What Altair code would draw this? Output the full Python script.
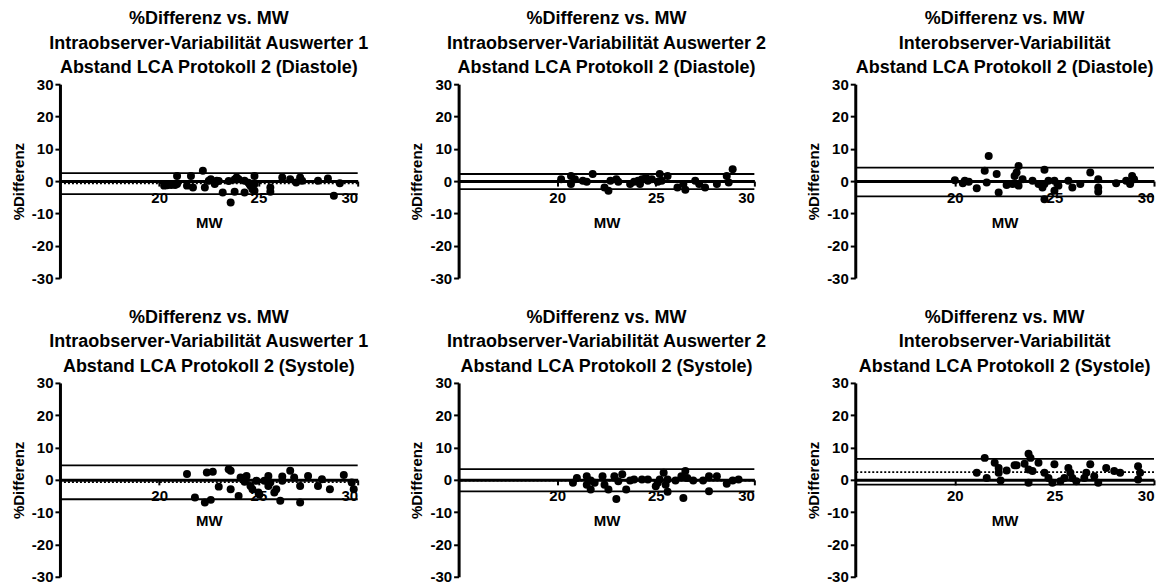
import altair as alt
import pandas as pd

FONT = "Liberation Sans"

# ---------------- data ----------------
title_1 = ["%Differenz vs. MW", "Intraobserver-Variabilität Auswerter 1", "Abstand LCA Protokoll 2 (Diastole)"]
title_2 = ["%Differenz vs. MW", "Intraobserver-Variabilität Auswerter 2", "Abstand LCA Protokoll 2 (Diastole)"]
title_3 = ["%Differenz vs. MW", "Interobserver-Variabilität", "Abstand LCA Protokoll 2 (Diastole)"]
title_4 = ["%Differenz vs. MW", "Intraobserver-Variabilität Auswerter 1", "Abstand LCA Protokoll 2 (Systole)"]
title_5 = ["%Differenz vs. MW", "Intraobserver-Variabilität Auswerter 2", "Abstand LCA Protokoll 2 (Systole)"]
title_6 = ["%Differenz vs. MW", "Interobserver-Variabilität", "Abstand LCA Protokoll 2 (Systole)"]

mw_1 = [20.25, 20.4, 20.6, 20.8, 20.9, 20.9, 21.4, 21.6, 21.7, 22.2, 22.3, 22.5, 22.6, 22.8, 22.9,
        23.2, 23.0, 23.6, 23.8, 23.5, 23.8, 23.9, 24.0, 24.3, 24.3, 24.5, 24.55, 24.6, 24.7, 24.8,
        24.8, 24.8, 25.6, 25.6, 26.2, 26.6, 26.9, 27.1, 27.2, 28.0, 28.5, 28.8, 29.1]
diff_1 = [-1.4, -1.3, -1.2, -1.2, 1.6, -0.9, -1.4, 1.6, -2.0, 3.2, -2.0, 0.1, 0.6, -0.9, 0.1,
          -3.5, 0.0, -6.6, -3.3, 0.0, 0.5, 1.1, 0.6, -3.5, 0.1, -0.5, -0.9, -1.4, -2.5, 1.6,
          -0.9, -3.0, -2.0, -3.3, 1.1, 0.6, -0.4, 1.1, 0.1, 0.1, 0.8, -4.5, -0.7]
bias_1, upper_1, lower_1 = -0.7, 2.5, -4.0

mw_2 = [20.2, 20.7, 20.7, 20.9, 21.3, 21.5, 21.8, 22.4, 22.6, 22.7, 23.0, 23.1, 23.7, 23.9, 24.1,
        24.2, 24.3, 24.5, 24.6, 24.8, 25.1, 25.2, 25.3, 25.6, 26.1, 26.5, 26.4, 27.0, 27.2, 27.5,
        28.1, 28.6, 28.7, 28.9]
diff_2 = [0.6, 1.6, -0.9, 0.6, 0.1, -0.2, 2.2, -2.0, -3.0, 0.1, 0.6, -0.2, -0.9, -0.2, 0.1,
          -0.9, 0.6, 1.1, 0.1, 0.6, -0.2, 2.2, 0.1, 1.6, -2.0, -2.7, -0.9, 0.1, -0.9, -2.0,
          -0.9, 1.6, -0.4, 3.7]
bias_2, upper_2, lower_2 = -0.1, 2.2, -2.5

mw_3 = [20.0, 20.4, 20.5, 20.7, 21.1, 21.5, 21.6, 21.7, 22.1, 22.2, 22.6, 22.9, 23.0, 23.1, 23.2,
        23.2, 23.4, 23.9, 24.2, 24.4, 24.5, 24.5, 24.7, 24.5, 25.0, 25.0, 25.2, 25.7, 25.9, 26.3,
        26.8, 27.2, 27.2, 27.2, 28.1, 28.6, 28.8, 28.9, 29.0]
diff_3 = [0.3, -0.7, 0.1, -0.2, -2.2, 3.2, -0.4, 7.8, 2.2, -3.5, -1.2, -0.9, 1.6, 2.7, 4.7,
          -1.4, 0.6, 0.1, -0.9, -2.0, -5.6, -0.9, 0.1, 3.5, 0.1, -3.0, -1.4, 0.1, -2.0, -0.9,
          2.7, 0.6, -2.0, -3.3, -0.7, 0.1, -0.9, 1.6, 0.6]
bias_3, upper_3, lower_3 = -0.2, 4.2, -4.7

mw_4 = [21.4, 21.8, 22.3, 22.4, 22.7, 22.6, 23.0, 23.5, 23.6, 23.6, 24.0, 24.1, 24.3, 24.4, 24.6,
        24.7, 24.9, 25.0, 25.05, 25.3, 25.5, 25.5, 25.6, 25.8, 25.9, 26.1, 26.2, 26.2, 26.6, 26.8,
        27.1, 27.1, 27.5, 28.0, 28.2, 28.6, 29.3, 29.7, 29.8]
diff_4 = [1.8, -5.5, -7.0, 2.3, 2.5, -6.2, -2.1, 3.3, -2.9, 2.8, -5.0, 0.7, -0.6, 1.2, -1.9,
          -2.9, -0.3, -3.9, -4.5, -0.3, 1.2, -1.9, -0.8, -3.9, -2.9, -6.5, 1.0, -0.3, 2.8, 0.7,
          -1.9, -7.0, 1.2, -1.9, 0.2, -2.9, 1.5, -0.8, -2.9]
bias_4, upper_4, lower_4 = -0.7, 4.5, -6.0

mw_5 = [20.8, 21.0, 21.5, 21.5, 21.7, 21.7, 21.9, 22.3, 22.4, 22.6, 22.9, 23.0, 23.1, 23.3, 23.5,
        23.7, 23.9, 24.3, 24.6, 25.0, 25.1, 25.2, 25.4, 25.5, 25.6, 25.6, 26.0, 26.3, 26.4, 26.5,
        26.6, 26.9, 27.4, 27.7, 27.7, 28.1, 28.6, 28.9, 29.2]
diff_5 = [-0.9, 0.6, 1.1, -1.5, -3.0, -0.2, -0.9, 1.1, -1.5, -3.0, 1.1, -5.9, -0.4, 1.7, -3.0,
          -0.2, 0.1, 0.1, 0.1, -2.0, -0.9, 0.1, 2.2, -1.5, -3.7, 0.1, -0.2, 1.1, -5.6, 2.7,
          0.6, -0.2, -0.2, -3.5, 1.1, 1.1, -1.2, -0.2, 0.1]
bias_5, upper_5, lower_5 = -0.2, 3.3, -3.6

mw_6 = [21.1, 21.5, 21.6, 22.0, 22.2, 22.2, 22.3, 22.6, 23.0, 23.1, 23.5, 23.7, 23.8, 23.7, 23.9,
        23.7, 24.2, 24.5, 24.7, 24.9, 25.0, 25.3, 25.5, 25.7, 25.8, 25.9, 26.1, 26.5, 26.6, 26.8,
        27.0, 27.2, 27.6, 28.0, 28.3, 29.2, 29.3, 29.2]
diff_6 = [2.2, 6.8, 0.6, 5.3, 3.7, 2.2, -0.2, 2.9, 4.5, 4.5, 5.0, 8.1, 6.8, 3.2, 2.7,
          -0.9, 5.3, 2.2, 0.6, -0.9, 4.8, -0.4, 0.6, 3.7, 2.2, 0.6, -0.4, 0.6, 2.2, 4.8,
          1.1, -0.9, 3.7, 2.7, 2.2, 4.2, 2.2, 0.1]
bias_6, upper_6, lower_6 = 2.4, 6.5, -1.5

x_ticks = [20, 25, 30]
y_ticks = [-30, -20, -10, 0, 10, 20, 30]

H = 194


def panel(mw, diff, bias, upper, lower, title, width):
    df = pd.DataFrame({"MW": mw, "Diff": diff})
    xenc = alt.X("MW:Q",
                 scale=alt.Scale(domain=[15, 30], nice=False, zero=False),
                 axis=alt.Axis(values=x_ticks, offset=-H / 2, title="MW",
                               titlePadding=10, labelPadding=4,
                               labelExpr="'' + datum.value"))
    yenc = alt.Y("Diff:Q",
                 scale=alt.Scale(domain=[-30, 30], nice=False),
                 axis=alt.Axis(values=y_ticks, title="%Differenz", titlePadding=5,
                               labelPadding=2, labelExpr="'' + datum.value"))
    loa = alt.Chart(pd.DataFrame({"Diff": [upper, lower]})).mark_rule(
        color="black", strokeWidth=1.8).encode(y=yenc)
    mean = alt.Chart(pd.DataFrame({"Diff": [bias]})).mark_rule(
        color="black", strokeWidth=1.8, strokeDash=[2, 2]).encode(y=yenc)
    pts = alt.Chart(df).mark_circle(size=64, color="black", opacity=1).encode(x=xenc, y=yenc)
    return alt.layer(loa, mean, pts).properties(
        width=width, height=H,
        title=alt.TitleParams(text=title, font=FONT, fontSize=18, fontWeight="bold",
                              lineHeight=24.5, anchor="middle", frame="group", offset=0,
                              color="black"))


p1 = panel(mw_1, diff_1, bias_1, upper_1, lower_1, title_1, 298)
p2 = panel(mw_2, diff_2, bias_2, upper_2, lower_2, title_2, 296)
p3 = panel(mw_3, diff_3, bias_3, upper_3, lower_3, title_3, 299)
p4 = panel(mw_4, diff_4, bias_4, upper_4, lower_4, title_4, 298)
p5 = panel(mw_5, diff_5, bias_5, upper_5, lower_5, title_5, 296)
p6 = panel(mw_6, diff_6, bias_6, upper_6, lower_6, title_6, 299)

chart = alt.concat(p1, p2, p3, p4, p5, p6, columns=3,
                   spacing={"row": 105, "column": 101}, bounds="flush").configure(
    background="white",
    padding={"left": 3, "top": 2, "right": 5, "bottom": 5}
).configure_view(
    stroke=None
).configure_axis(
    labelFont=FONT, labelFontSize=15, labelFontWeight="bold", labelColor="black",
    titleFont=FONT, titleFontSize=15, titleFontWeight="bold", titleColor="black",
    domainColor="black", domainWidth=3, tickColor="black", tickWidth=2, tickSize=5,
    grid=False
)

chart.save("out.html", embed_options={"renderer": "svg", "actions": False})
